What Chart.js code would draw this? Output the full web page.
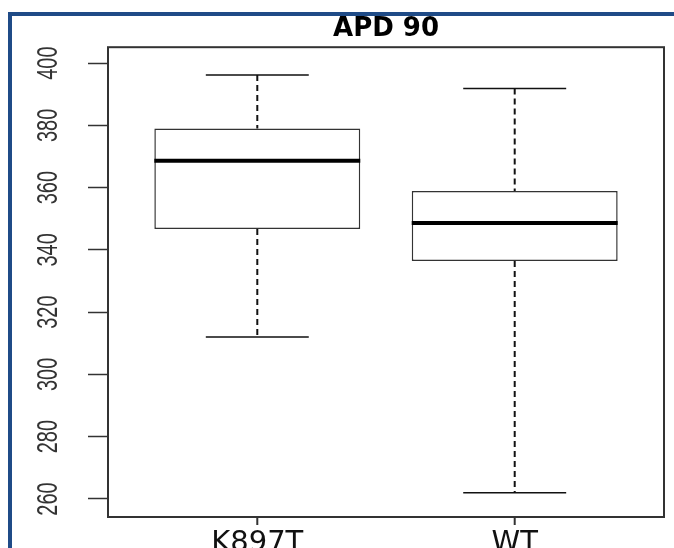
<!DOCTYPE html>
<html lang="en">
<head>
<meta charset="UTF-8">
<title>APD 90</title>
<script src="https://cdn.jsdelivr.net/npm/chart.js"></script>
<style>
    html, body { margin: 0; padding: 0; background: #fff; }
    #wrap { position: relative; width: 674px; height: 548px; overflow: hidden; }
    #frame { position: absolute; left: 8px; top: 12px; width: 700px; height: 600px;
             border-top: 4px solid #1f4b87; border-left: 4px solid #1f4b87; }
    canvas { position: absolute; left: 0; top: 0; }
</style>
</head>
<body>
<div id="wrap">
    <div id="frame"></div>
    <canvas id="chart" width="674" height="548"></canvas>
</div>
<script>
    // box plot summary per group
    const groups = ['K897T', 'WT'];
    const positions = [1, 2];
    const lowerWhisker = [312, 262];
    const lowerQuartile = [346.7, 336.4];
    const medians = [368.6, 348.6];
    const upperQuartile = [379, 358.9];
    const upperWhisker = [396.2, 391.8];
    const yTickValues = [260, 280, 300, 320, 340, 360, 380, 400];

    // whiskers, caps, medians, frame, x tick marks and rotated y labels
    const boxExtras = {
        id: 'boxExtras',
        afterDatasetsDraw(chart) {
            const { ctx, chartArea, scales: { x, y } } = chart;
            const bars = chart.getDatasetMeta(0).data;
            ctx.save();
            positions.forEach((p, i) => {
                const cx = x.getPixelForValue(p);
                const capL = x.getPixelForValue(p - 0.2);
                const capR = x.getPixelForValue(p + 0.2);
                const yHi = y.getPixelForValue(upperWhisker[i]);
                const yLo = y.getPixelForValue(lowerWhisker[i]);

                ctx.strokeStyle = '#111';
                ctx.lineWidth = 2;
                ctx.setLineDash([6, 4]);
                ctx.beginPath();
                ctx.moveTo(cx, yHi);
                ctx.lineTo(cx, y.getPixelForValue(upperQuartile[i]));
                ctx.moveTo(cx, y.getPixelForValue(lowerQuartile[i]));
                ctx.lineTo(cx, yLo);
                ctx.stroke();

                ctx.setLineDash([]);
                ctx.lineWidth = 1.5;
                ctx.beginPath();
                ctx.moveTo(capL, yHi);
                ctx.lineTo(capR, yHi);
                ctx.moveTo(capL, yLo);
                ctx.lineTo(capR, yLo);
                ctx.stroke();

                const bar = bars[i];
                const ym = y.getPixelForValue(medians[i]);
                ctx.strokeStyle = '#000';
                ctx.lineWidth = 4;
                ctx.beginPath();
                ctx.moveTo(bar.x - bar.width / 2, ym);
                ctx.lineTo(bar.x + bar.width / 2, ym);
                ctx.stroke();
            });
            ctx.strokeStyle = '#333';
            ctx.lineWidth = 2;
            ctx.strokeRect(chartArea.left, chartArea.top, chartArea.width, chartArea.height);

            // x tick marks
            ctx.beginPath();
            x.ticks.forEach(t => {
                const px = x.getPixelForValue(t.value);
                ctx.moveTo(px, chartArea.bottom);
                ctx.lineTo(px, chartArea.bottom + 8);
            });
            ctx.stroke();
            ctx.restore();
        },
        afterDraw(chart) {
            const { ctx, scales: { y } } = chart;
            ctx.save();
            ctx.font = '20px "Liberation Sans", Arial, sans-serif';
            ctx.fillStyle = '#333';
            ctx.textAlign = 'center';
            ctx.textBaseline = 'middle';
            y.ticks.forEach(t => {
                ctx.save();
                ctx.translate(y.left + 49, y.getPixelForValue(t.value));
                ctx.rotate(-Math.PI / 2);
                ctx.scale(1, 1.5); // glyphs in the source image are stretched sideways
                ctx.fillText(String(t.value), 0, 0);
                ctx.restore();
            });
            ctx.restore();
        }
    };

    const ctx = document.getElementById('chart').getContext('2d');
    new Chart(ctx, {
        type: 'bar',
        data: {
            datasets: [{
                data: positions.map((p, i) => ({ x: p, y: [lowerQuartile[i], upperQuartile[i]] })),
                backgroundColor: '#ffffff',
                borderColor: '#333333',
                borderWidth: 1.5,
                borderSkipped: false,
                barPercentage: 0.8,
                categoryPercentage: 1
            }]
        },
        options: {
            responsive: false,
            animation: false,
            devicePixelRatio: 1,
            layout: { padding: { left: 0, right: 10, top: 0, bottom: 0 } },
            plugins: {
                legend: { display: false },
                tooltip: { enabled: false },
                title: {
                    display: true,
                    text: 'APD 90',
                    fullSize: false,
                    color: '#000',
                    font: { family: '"DejaVu Sans", sans-serif', size: 26, weight: 'bold' },
                    padding: { top: 14, bottom: 2 }
                }
            },
            scales: {
                x: {
                    type: 'linear',
                    min: 0.42,
                    max: 2.58,
                    offset: false,
                    afterBuildTicks: axis => { axis.ticks = positions.map(v => ({ value: v })); },
                    afterFit: axis => { axis.height = 31; },
                    border: { display: false },
                    grid: { display: false },
                    ticks: {
                        padding: 1,
                        maxRotation: 0,
                        autoSkip: false,
                        color: '#111',
                        font: { family: '"DejaVu Sans", sans-serif', size: 29 },
                        callback: (value, index) => groups[index]
                    }
                },
                y: {
                    min: 254.2,
                    max: 405.1,
                    afterBuildTicks: axis => { axis.ticks = yTickValues.map(v => ({ value: v })); },
                    afterFit: axis => { axis.width = 108; },
                    border: { display: false },
                    grid: { drawOnChartArea: false, tickLength: 20, tickColor: '#333', tickWidth: 1.5 },
                    ticks: { display: false }
                }
            }
        },
        plugins: [boxExtras]
    });
</script>
</body>
</html>
